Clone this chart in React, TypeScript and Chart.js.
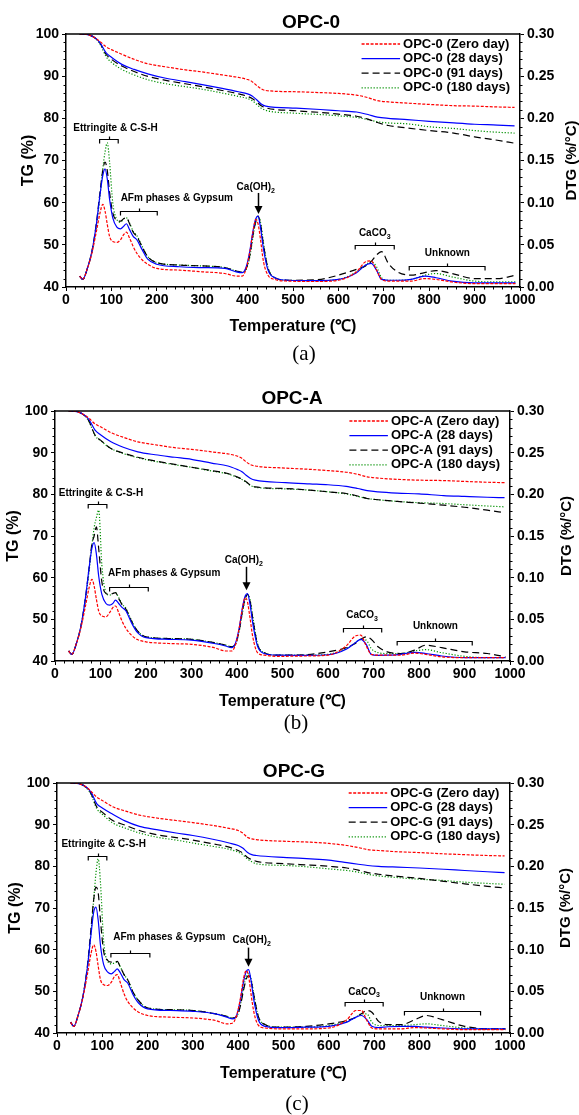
import React, { useEffect, useRef } from 'react';
import { Chart, registerables } from 'chart.js';

Chart.register(...registerables);

const SANS = '"Liberation Sans", Arial, Helvetica, sans-serif';
const SERIF = '"Liberation Serif", "Times New Roman", serif';

// ---------- axes ----------
const tempTicks = [0, 100, 200, 300, 400, 500, 600, 700, 800, 900, 1000];
const tgTicks = [40, 50, 60, 70, 80, 90, 100];
const dtgTicks = [0, 0.05, 0.1, 0.15, 0.2, 0.25, 0.3];

// ---------- temperature grids (°C) ----------
const tgTemps = [30, 50, 65, 75, 88, 100, 123, 150, 182, 220, 263, 300, 344, 380, 400, 410, 420, 430, 440, 507, 560, 600, 640, 665, 686, 710, 752, 800, 854, 900, 950, 988];
const dtgTemps = [30, 37, 47, 57, 67, 75, 81, 86, 91, 96, 103, 112, 120, 127, 133, 140, 148, 156, 168, 180, 200, 250, 300, 350, 375, 388, 397, 405, 412, 418, 423, 428, 435, 445, 460, 490, 550, 600, 640, 660, 672, 684, 695, 710, 730, 760, 790, 815, 850, 900, 950, 990];

// ---------- series ----------
const seriesSuffixes = ['(Zero day)', '(28 days)', '(91 days)', '(180 days)'];
const seriesColors = ['#ff0000', '#0000ff', '#000000', '#009000'];
const seriesDashes: number[][] = [[3, 1.5], [], [7, 4], [1.2, 1.8]];

// ---------- OPC-0 ----------
const tgOpc0Zero = [100, 99.8, 99.0, 98.2, 97.0, 96.3, 95.2, 94.0, 92.9, 92.2, 91.5, 91.0, 90.3, 89.7, 89.2, 88.7, 87.8, 87.0, 86.6, 86.3, 86.1, 85.9, 85.5, 84.9, 84.2, 83.9, 83.6, 83.3, 83.0, 82.9, 82.7, 82.6];
const tgOpc0D28 = [100, 99.8, 99.0, 97.9, 95.6, 94.5, 92.8, 91.6, 90.5, 89.5, 88.7, 88.0, 87.1, 86.3, 85.8, 85.3, 84.4, 83.4, 82.9, 82.4, 82.1, 81.8, 81.5, 80.9, 80.3, 80.0, 79.7, 79.3, 78.9, 78.6, 78.4, 78.2];
const tgOpc0D91 = [100, 99.8, 99.0, 97.8, 95.2, 94.0, 92.4, 91.1, 89.9, 89.0, 88.2, 87.5, 86.6, 85.8, 85.2, 84.7, 83.9, 83.0, 82.5, 81.8, 81.4, 81.0, 80.5, 79.8, 79.0, 78.3, 77.7, 77.1, 76.5, 75.6, 74.8, 74.1];
const tgOpc0D180 = [100, 99.8, 98.9, 97.6, 94.7, 93.3, 91.6, 90.3, 89.1, 88.2, 87.5, 86.9, 86.0, 85.2, 84.7, 84.2, 83.3, 82.4, 81.9, 81.2, 80.9, 80.6, 80.2, 79.7, 79.2, 78.9, 78.7, 78.0, 77.6, 77.1, 76.7, 76.5];

const dtgOpc0Zero = [0.013, 0.009, 0.022, 0.040, 0.066, 0.088, 0.098, 0.090, 0.074, 0.060, 0.054, 0.053, 0.056, 0.062, 0.065, 0.058, 0.048, 0.040, 0.032, 0.027, 0.022, 0.020, 0.018, 0.016, 0.013, 0.013, 0.022, 0.042, 0.066, 0.080, 0.075, 0.058, 0.030, 0.014, 0.009, 0.007, 0.0065, 0.008, 0.018, 0.030, 0.031, 0.020, 0.009, 0.007, 0.007, 0.007, 0.010, 0.009, 0.006, 0.004, 0.004, 0.004];
const dtgOpc0D28 = [0.013, 0.009, 0.022, 0.042, 0.075, 0.110, 0.132, 0.140, 0.128, 0.104, 0.082, 0.071, 0.069, 0.072, 0.075, 0.068, 0.060, 0.056, 0.044, 0.033, 0.027, 0.024, 0.023, 0.022, 0.018, 0.017, 0.024, 0.043, 0.067, 0.081, 0.084, 0.072, 0.045, 0.020, 0.011, 0.008, 0.0075, 0.009, 0.017, 0.026, 0.028, 0.020, 0.009, 0.008, 0.008, 0.009, 0.013, 0.011, 0.007, 0.005, 0.005, 0.005];
const dtgOpc0D91 = [0.013, 0.009, 0.022, 0.042, 0.076, 0.113, 0.138, 0.148, 0.138, 0.112, 0.088, 0.079, 0.078, 0.081, 0.082, 0.075, 0.065, 0.060, 0.047, 0.036, 0.029, 0.026, 0.025, 0.023, 0.019, 0.0175, 0.022, 0.038, 0.062, 0.078, 0.084, 0.076, 0.050, 0.022, 0.011, 0.008, 0.0085, 0.014, 0.021, 0.025, 0.030, 0.038, 0.042, 0.028, 0.018, 0.014, 0.017, 0.0195, 0.016, 0.010, 0.010, 0.014];
const dtgOpc0D180 = [0.013, 0.009, 0.022, 0.042, 0.072, 0.108, 0.140, 0.160, 0.171, 0.148, 0.100, 0.080, 0.077, 0.081, 0.082, 0.076, 0.066, 0.061, 0.048, 0.036, 0.029, 0.026, 0.025, 0.023, 0.019, 0.0175, 0.021, 0.036, 0.060, 0.077, 0.083, 0.078, 0.052, 0.023, 0.011, 0.008, 0.0075, 0.009, 0.018, 0.026, 0.030, 0.024, 0.011, 0.008, 0.008, 0.009, 0.014, 0.016, 0.012, 0.007, 0.006, 0.006];

// ---------- OPC-A ----------
const tgOpcAZero = [100, 99.8, 99.0, 98.2, 96.9, 96.2, 94.8, 93.7, 92.6, 91.9, 91.2, 90.8, 90.2, 89.7, 89.2, 88.7, 87.8, 87.1, 86.8, 86.3, 86.0, 85.7, 85.3, 84.8, 84.2, 83.9, 83.6, 83.4, 83.3, 83.1, 82.9, 82.8];
const tgOpcAD28 = [100, 99.8, 99.0, 97.9, 95.4, 94.3, 92.6, 91.3, 90.2, 89.5, 88.9, 88.4, 87.5, 86.8, 86.0, 85.5, 84.6, 83.8, 83.4, 82.8, 82.5, 82.3, 81.9, 81.4, 80.9, 80.6, 80.3, 80.1, 79.7, 79.5, 79.3, 79.2];
const tgOpcAD91 = [100, 99.8, 98.9, 97.5, 94.2, 93.0, 91.0, 89.9, 88.9, 88.0, 87.2, 86.5, 85.7, 85.0, 84.2, 83.7, 83.0, 82.2, 81.8, 81.4, 81.0, 80.6, 80.2, 79.6, 79.0, 78.7, 78.3, 77.9, 77.4, 76.9, 76.2, 75.6];
const tgOpcAD180 = [100, 99.8, 98.9, 97.4, 94.1, 92.9, 91.0, 89.8, 88.8, 87.9, 87.1, 86.5, 85.6, 84.9, 84.1, 83.6, 82.9, 82.1, 81.7, 81.3, 81.0, 80.6, 80.1, 79.5, 79.0, 78.7, 78.3, 78.0, 77.8, 77.5, 77.2, 77.0];

const dtgOpcAZero = [0.012, 0.008, 0.021, 0.040, 0.066, 0.088, 0.098, 0.090, 0.074, 0.060, 0.054, 0.053, 0.058, 0.064, 0.066, 0.058, 0.047, 0.039, 0.031, 0.026, 0.023, 0.021, 0.020, 0.016, 0.012, 0.012, 0.020, 0.040, 0.063, 0.076, 0.071, 0.054, 0.028, 0.010, 0.007, 0.0056, 0.006, 0.007, 0.018, 0.030, 0.031, 0.018, 0.008, 0.007, 0.007, 0.007, 0.0095, 0.008, 0.005, 0.004, 0.004, 0.004];
const dtgOpcAD28 = [0.012, 0.008, 0.021, 0.042, 0.076, 0.112, 0.135, 0.142, 0.128, 0.102, 0.080, 0.069, 0.067, 0.069, 0.073, 0.069, 0.064, 0.060, 0.046, 0.035, 0.028, 0.026, 0.025, 0.021, 0.018, 0.016, 0.022, 0.040, 0.064, 0.078, 0.081, 0.070, 0.044, 0.018, 0.009, 0.007, 0.0068, 0.0075, 0.014, 0.022, 0.026, 0.020, 0.008, 0.0068, 0.007, 0.008, 0.0104, 0.009, 0.006, 0.004, 0.004, 0.004];
const dtgOpcAD91 = [0.012, 0.008, 0.021, 0.042, 0.076, 0.112, 0.140, 0.150, 0.161, 0.135, 0.095, 0.081, 0.080, 0.081, 0.082, 0.075, 0.067, 0.062, 0.048, 0.037, 0.029, 0.027, 0.026, 0.022, 0.019, 0.017, 0.021, 0.037, 0.060, 0.075, 0.080, 0.074, 0.050, 0.020, 0.010, 0.007, 0.0075, 0.011, 0.016, 0.021, 0.026, 0.029, 0.026, 0.017, 0.011, 0.009, 0.013, 0.019, 0.016, 0.011, 0.009, 0.005];
const dtgOpcAD180 = [0.012, 0.008, 0.021, 0.042, 0.074, 0.108, 0.138, 0.160, 0.172, 0.181, 0.115, 0.082, 0.079, 0.081, 0.082, 0.076, 0.068, 0.063, 0.049, 0.037, 0.029, 0.027, 0.026, 0.022, 0.019, 0.017, 0.020, 0.036, 0.058, 0.074, 0.080, 0.075, 0.052, 0.021, 0.010, 0.007, 0.007, 0.008, 0.015, 0.022, 0.026, 0.025, 0.015, 0.010, 0.009, 0.009, 0.012, 0.0136, 0.010, 0.0056, 0.004, 0.004];

// ---------- OPC-G ----------
const tgOpcGZero = [100, 99.8, 99.0, 98.0, 96.6, 95.8, 94.3, 93.3, 92.3, 91.6, 91.0, 90.5, 89.8, 89.1, 88.6, 88.0, 87.0, 86.6, 86.4, 86.0, 85.8, 85.5, 85.0, 84.5, 84.0, 83.8, 83.5, 83.3, 83.0, 82.8, 82.6, 82.5];
const tgOpcGD28 = [100, 99.8, 99.0, 97.8, 95.0, 94.0, 92.5, 90.9, 89.6, 88.8, 88.0, 87.4, 86.5, 85.6, 85.0, 84.4, 83.4, 82.8, 82.6, 82.1, 81.8, 81.5, 80.9, 80.5, 80.2, 80.0, 79.8, 79.6, 79.3, 79.0, 78.7, 78.5];
const tgOpcGD91 = [100, 99.8, 98.9, 97.5, 94.2, 93.0, 91.0, 89.9, 88.6, 87.6, 86.9, 86.3, 85.4, 84.6, 83.8, 83.2, 82.2, 81.6, 81.2, 80.6, 80.3, 80.0, 79.6, 79.1, 78.5, 78.1, 77.6, 77.1, 76.4, 75.8, 75.2, 74.8];
const tgOpcGD180 = [100, 99.8, 98.8, 97.3, 93.8, 92.5, 90.4, 89.2, 88.0, 87.0, 86.3, 85.6, 84.8, 84.1, 83.4, 82.8, 81.8, 81.1, 80.6, 80.2, 79.8, 79.4, 79.0, 78.6, 78.1, 77.7, 77.3, 76.9, 76.6, 76.2, 75.9, 75.7];

const dtgOpcGZero = [0.013, 0.008, 0.022, 0.042, 0.070, 0.095, 0.106, 0.098, 0.080, 0.064, 0.058, 0.057, 0.061, 0.068, 0.070, 0.060, 0.047, 0.038, 0.030, 0.025, 0.021, 0.019, 0.018, 0.015, 0.011, 0.012, 0.022, 0.042, 0.066, 0.075, 0.068, 0.048, 0.024, 0.009, 0.006, 0.005, 0.005, 0.006, 0.016, 0.027, 0.027, 0.015, 0.006, 0.005, 0.005, 0.005, 0.0065, 0.006, 0.005, 0.004, 0.004, 0.004];
const dtgOpcGD28 = [0.013, 0.008, 0.022, 0.043, 0.078, 0.118, 0.145, 0.151, 0.135, 0.105, 0.082, 0.073, 0.071, 0.074, 0.077, 0.072, 0.064, 0.060, 0.046, 0.036, 0.029, 0.027, 0.026, 0.023, 0.019, 0.017, 0.022, 0.040, 0.062, 0.074, 0.076, 0.064, 0.038, 0.015, 0.008, 0.0064, 0.007, 0.008, 0.013, 0.019, 0.021, 0.016, 0.008, 0.0065, 0.0075, 0.008, 0.008, 0.007, 0.006, 0.005, 0.005, 0.005];
const dtgOpcGD91 = [0.013, 0.008, 0.022, 0.043, 0.080, 0.125, 0.160, 0.175, 0.168, 0.135, 0.098, 0.087, 0.085, 0.085, 0.086, 0.079, 0.070, 0.064, 0.049, 0.039, 0.030, 0.028, 0.027, 0.023, 0.020, 0.018, 0.020, 0.033, 0.052, 0.065, 0.069, 0.064, 0.044, 0.019, 0.010, 0.007, 0.008, 0.011, 0.015, 0.019, 0.023, 0.027, 0.025, 0.014, 0.010, 0.010, 0.016, 0.021, 0.016, 0.008, 0.005, 0.005];
const dtgOpcGD180 = [0.013, 0.008, 0.022, 0.043, 0.078, 0.120, 0.160, 0.192, 0.209, 0.180, 0.110, 0.086, 0.083, 0.084, 0.085, 0.079, 0.070, 0.064, 0.049, 0.039, 0.030, 0.028, 0.027, 0.023, 0.020, 0.018, 0.020, 0.034, 0.055, 0.068, 0.071, 0.066, 0.045, 0.019, 0.010, 0.007, 0.007, 0.009, 0.014, 0.019, 0.023, 0.023, 0.013, 0.009, 0.009, 0.009, 0.010, 0.011, 0.009, 0.006, 0.005, 0.005];

// ---------- annotations (data coordinates: °C, TG %) ----------
type Note = {
  text: string; sub?: string; tx: number; ty: number;
  kind: 'bracket' | 'arrow';
  x1?: number; x2?: number; y?: number;
  ax?: number; y1?: number; y2?: number;
};

const notesOpc0: Note[] = [
  { text: 'Ettringite & C-S-H', tx: 109, ty: 77.6, kind: 'bracket', x1: 74, x2: 115, y: 75.0 },
  { text: 'AFm phases & Gypsum', tx: 244, ty: 61.1, kind: 'bracket', x1: 120, x2: 201, y: 58.0 },
  { text: 'Ca(OH)', sub: '2', tx: 418, ty: 63.7, kind: 'arrow', ax: 422, y1: 62.3, y2: 57.3 },
  { text: 'CaCO', sub: '3', tx: 680, ty: 52.7, kind: 'bracket', x1: 637, x2: 723, y: 49.9 },
  { text: 'Unknown', tx: 840, ty: 48.1, kind: 'bracket', x1: 756, x2: 923, y: 45.0 },
];
const notesOpcA: Note[] = [
  { text: 'Ettringite & C-S-H', tx: 101, ty: 80.3, kind: 'bracket', x1: 73, x2: 114, y: 77.8 },
  { text: 'AFm phases & Gypsum', tx: 240, ty: 61.0, kind: 'bracket', x1: 120, x2: 205, y: 57.8 },
  { text: 'Ca(OH)', sub: '2', tx: 415, ty: 64.1, kind: 'arrow', ax: 419, y1: 62.6, y2: 57.0 },
  { text: 'CaCO', sub: '3', tx: 675, ty: 51.0, kind: 'bracket', x1: 634, x2: 718, y: 48.0 },
  { text: 'Unknown', tx: 836, ty: 48.4, kind: 'bracket', x1: 752, x2: 917, y: 44.9 },
];
const notesOpcG: Note[] = [
  { text: 'Ettringite & C-S-H', tx: 103, ty: 85.4, kind: 'bracket', x1: 69, x2: 110, y: 82.6 },
  { text: 'AFm phases & Gypsum', tx: 248, ty: 63.0, kind: 'bracket', x1: 119, x2: 205, y: 59.1 },
  { text: 'Ca(OH)', sub: '2', tx: 430, ty: 62.2, kind: 'arrow', ax: 421, y1: 60.5, y2: 55.9 },
  { text: 'CaCO', sub: '3', tx: 678, ty: 49.9, kind: 'bracket', x1: 636, x2: 720, y: 47.5 },
  { text: 'Unknown', tx: 851, ty: 48.7, kind: 'bracket', x1: 767, x2: 935, y: 45.3 },
];

type Frame = {
  canvasTop: number; height: number;
  left: number; right: number; top: number; bottom: number;
  titleX: number; titleY: number;
  yTitlePad: number; xTitlePad: number; rightTitleX: number;
  captionX: number; captionY: number;
};

type Panel = { name: string; caption: string; tg: number[][]; dtg: number[][]; notes: Note[]; frame: Frame };

const panels: Panel[] = [
  {
    name: 'OPC-0', caption: '(a)',
    tg: [tgOpc0Zero, tgOpc0D28, tgOpc0D91, tgOpc0D180],
    dtg: [dtgOpc0Zero, dtgOpc0D28, dtgOpc0D91, dtgOpc0D180],
    notes: notesOpc0,
    frame: { canvasTop: 0, height: 345, left: 66, right: 59, top: 34, bottom: 58, titleX: 311, titleY: 23, yTitlePad: 19, xTitlePad: 8.7, rightTitleX: 572, captionX: 304, captionY: 353 },
  },
  {
    name: 'OPC-A', caption: '(b)',
    tg: [tgOpcAZero, tgOpcAD28, tgOpcAD91, tgOpcAD180],
    dtg: [dtgOpcAZero, dtgOpcAD28, dtgOpcAD91, dtgOpcAD180],
    notes: notesOpcA,
    frame: { canvasTop: 375, height: 345, left: 55, right: 69, top: 36, bottom: 59, titleX: 292, titleY: 24, yTitlePad: 3.5, xTitlePad: 8.7, rightTitleX: 567, captionX: 296, captionY: 722 },
  },
  {
    name: 'OPC-G', caption: '(c)',
    tg: [tgOpcGZero, tgOpcGD28, tgOpcGD91, tgOpcGD180],
    dtg: [dtgOpcGZero, dtgOpcGD28, dtgOpcGD91, dtgOpcGD180],
    notes: notesOpcG,
    frame: { canvasTop: 750, height: 345, left: 57, right: 69, top: 33, bottom: 62, titleX: 294, titleY: 22, yTitlePad: 6, xTitlePad: 11.4, rightTitleX: 566, captionX: 297, captionY: 1103 },
  },
];

const W = 579;

function makeDecor(p: Panel) {
  return {
    id: 'decor' + p.name,
    afterDraw(chart: any) {
      const { ctx, chartArea: ca, scales } = chart;
      const x = scales.x, y = scales.y, y1 = scales.y1;
      const f = p.frame;
      ctx.save();
      ctx.strokeStyle = '#000';
      ctx.fillStyle = '#000';
      // top frame
      ctx.lineWidth = 1.5;
      ctx.beginPath();
      ctx.moveTo(ca.left, ca.top);
      ctx.lineTo(ca.right, ca.top);
      ctx.stroke();
      // minor ticks
      ctx.lineWidth = 1;
      ctx.beginPath();
      for (let v = 20; v < 1000; v += 20) {
        if (v % 100 === 0) continue;
        const px = Math.round(x.getPixelForValue(v)) + 0.5;
        ctx.moveTo(px, ca.bottom);
        ctx.lineTo(px, ca.bottom + 2.5);
      }
      for (let v = 42; v < 100; v += 2) {
        if (v % 10 === 0) continue;
        const py = Math.round(y.getPixelForValue(v)) + 0.5;
        ctx.moveTo(ca.left, py);
        ctx.lineTo(ca.left - 2.5, py);
      }
      for (let k = 1; k < 30; k++) {
        if (k % 5 === 0) continue;
        const py = Math.round(y1.getPixelForValue(k / 100)) + 0.5;
        ctx.moveTo(ca.right, py);
        ctx.lineTo(ca.right + 2.5, py);
      }
      ctx.stroke();

      // title
      ctx.font = `bold 19px ${SANS}`;
      ctx.textAlign = 'center';
      ctx.textBaseline = 'middle';
      ctx.fillText(p.name, f.titleX, f.titleY);

      // right axis title (reads bottom to top)
      ctx.save();
      ctx.translate(f.rightTitleX, (ca.top + ca.bottom) / 2);
      ctx.rotate(-Math.PI / 2);
      ctx.font = `bold 15px ${SANS}`;
      ctx.fillText('DTG (%/°C)', 0, 0);
      ctx.restore();

      // legend
      ctx.font = `bold 13px ${SANS}`;
      const names = seriesSuffixes.map((s) => `${p.name} ${s}`);
      const maxW = Math.max(...names.map((n) => ctx.measureText(n).width));
      const tx = ca.right - 10 - maxW;
      names.forEach((n, i) => {
        const yy = ca.top + 9.5 + i * 14.6;
        ctx.save();
        ctx.strokeStyle = seriesColors[i];
        ctx.lineWidth = 1.3;
        ctx.setLineDash(seriesDashes[i]);
        ctx.beginPath();
        ctx.moveTo(tx - 41.5, yy + 0.5);
        ctx.lineTo(tx - 3, yy + 0.5);
        ctx.stroke();
        ctx.restore();
        ctx.textAlign = 'left';
        ctx.fillText(n, tx, yy + 0.5);
      });

      // annotations
      p.notes.forEach((n) => {
        ctx.font = `bold 10px ${SANS}`;
        const wMain = ctx.measureText(n.text).width;
        ctx.font = `bold 7px ${SANS}`;
        const wSub = n.sub ? ctx.measureText(n.sub).width : 0;
        const cx = x.getPixelForValue(n.tx);
        const cy = y.getPixelForValue(n.ty);
        const sx = cx - (wMain + wSub) / 2;
        ctx.textAlign = 'left';
        ctx.textBaseline = 'middle';
        ctx.font = `bold 10px ${SANS}`;
        ctx.fillText(n.text, sx, cy);
        if (n.sub) {
          ctx.font = `bold 7px ${SANS}`;
          ctx.fillText(n.sub, sx + wMain, cy + 3.5);
        }
        ctx.lineWidth = 1.2;
        ctx.beginPath();
        if (n.kind === 'bracket') {
          const x1 = x.getPixelForValue(n.x1!);
          const x2 = x.getPixelForValue(n.x2!);
          const yy = Math.round(y.getPixelForValue(n.y!)) + 0.5;
          const xm = Math.round((x1 + x2) / 2) + 0.5;
          ctx.moveTo(x1, yy + 4);
          ctx.lineTo(x1, yy);
          ctx.lineTo(x2, yy);
          ctx.lineTo(x2, yy + 4);
          ctx.moveTo(xm, yy);
          ctx.lineTo(xm, yy - 3);
          ctx.stroke();
        } else {
          const ax = Math.round(x.getPixelForValue(n.ax!)) + 0.5;
          const ya = y.getPixelForValue(n.y1!);
          const yb = y.getPixelForValue(n.y2!);
          ctx.lineWidth = 1.5;
          ctx.moveTo(ax, ya);
          ctx.lineTo(ax, yb - 7);
          ctx.stroke();
          ctx.beginPath();
          ctx.moveTo(ax - 4, yb - 8);
          ctx.lineTo(ax + 4, yb - 8);
          ctx.lineTo(ax, yb);
          ctx.closePath();
          ctx.fill();
        }
      });
      ctx.restore();
    },
  };
}

function PanelChart({ p }: { p: Panel }) {
  const ref = useRef<HTMLCanvasElement | null>(null);
  useEffect(() => {
    const canvas = ref.current;
    if (!canvas) return;
    const f = p.frame;
    const datasets: any[] = [];
    for (let i = 0; i < 4; i++) {
      const common = {
        borderColor: seriesColors[i],
        backgroundColor: seriesColors[i],
        borderDash: seriesDashes[i],
        borderWidth: 1.2,
        pointRadius: 0,
        fill: false,
        cubicInterpolationMode: 'monotone' as const,
      };
      datasets.push({
        ...common,
        label: `${p.name} ${seriesSuffixes[i]} TG`,
        yAxisID: 'y',
        data: tgTemps.map((t, k) => ({ x: t, y: p.tg[i][k] })),
      });
      datasets.push({
        ...common,
        label: `${p.name} ${seriesSuffixes[i]} DTG`,
        yAxisID: 'y1',
        data: dtgTemps.map((t, k) => ({ x: t, y: p.dtg[i][k] })),
      });
    }
    const tickFont = { family: SANS, size: 14, weight: 'bold' as const };
    const titleFont = { family: SANS, size: 16, weight: 'bold' as const };
    const chart = new Chart(canvas, {
      type: 'line',
      data: { datasets },
      options: {
        animation: false,
        responsive: false,
        devicePixelRatio: 1,
        layout: { padding: { top: f.top, left: 0, right: 0, bottom: 0 } },
        plugins: { legend: { display: false }, tooltip: { enabled: false }, title: { display: false } },
        scales: {
          x: {
            type: 'linear', min: 0, max: 1000,
            afterBuildTicks: (s: any) => { s.ticks = tempTicks.map((v) => ({ value: v })); },
            afterFit: (s: any) => { s.height = f.bottom; },
            ticks: { font: tickFont, color: '#000', padding: 1, maxRotation: 0, autoSkip: false, callback: (v: any) => String(v) },
            grid: { drawOnChartArea: false, tickLength: 4, color: '#000', lineWidth: 1 },
            border: { color: '#000', width: 1.5 },
            title: { display: true, text: 'Temperature (℃)', font: titleFont, color: '#000', padding: { top: 0, bottom: f.xTitlePad } },
          },
          y: {
            type: 'linear', position: 'left', min: 40, max: 100,
            afterBuildTicks: (s: any) => { s.ticks = tgTicks.map((v) => ({ value: v })); },
            afterFit: (s: any) => { s.width = f.left; },
            ticks: { font: tickFont, color: '#000', padding: 3, autoSkip: false, callback: (v: any) => String(v) },
            grid: { drawOnChartArea: false, tickLength: 4, color: '#000', lineWidth: 1 },
            border: { color: '#000', width: 1.5 },
            title: { display: true, text: 'TG (%)', font: titleFont, color: '#000', padding: { top: f.yTitlePad, bottom: 0 } },
          },
          y1: {
            type: 'linear', position: 'right', min: 0, max: 0.3,
            afterBuildTicks: (s: any) => { s.ticks = dtgTicks.map((v) => ({ value: v })); },
            afterFit: (s: any) => { s.width = f.right; },
            ticks: { font: tickFont, color: '#000', padding: 3, autoSkip: false, callback: (v: any) => Number(v).toFixed(2) },
            grid: { drawOnChartArea: false, tickLength: 4, color: '#000', lineWidth: 1 },
            border: { color: '#000', width: 1.5 },
          },
        },
      } as any,
      plugins: [makeDecor(p)],
    });
    return () => chart.destroy();
  }, [p]);
  const f = p.frame;
  return (
    <canvas
      ref={ref}
      width={W}
      height={f.height}
      style={{ position: 'absolute', left: 0, top: f.canvasTop, width: W, height: f.height }}
    />
  );
}

export default function App() {
  return (
    <div style={{ position: 'absolute', left: 0, top: 0, width: W, height: 1115, background: '#fff', overflow: 'hidden' }}>
      {panels.map((p) => (
        <PanelChart key={p.name} p={p} />
      ))}
      {panels.map((p) => (
        <div
          key={p.caption}
          style={{
            position: 'absolute', left: p.frame.captionX, top: p.frame.captionY,
            transform: 'translate(-50%, -50%)', fontFamily: SERIF, fontSize: 21, lineHeight: 1, color: '#000',
          }}
        >
          {p.caption}
        </div>
      ))}
    </div>
  );
}
